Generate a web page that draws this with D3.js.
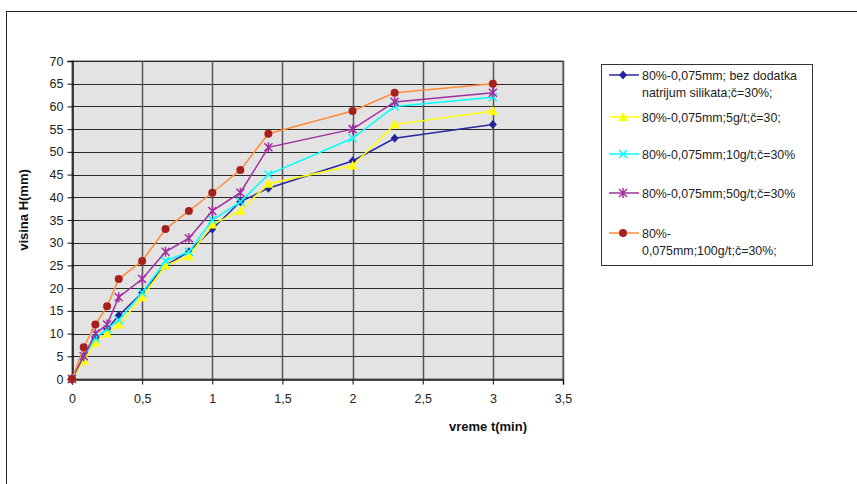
<!DOCTYPE html>
<html><head><meta charset="utf-8">
<script src="https://cdn.jsdelivr.net/npm/d3@7"></script>
<style>body{margin:0;background:#fff;font-family:"Liberation Sans",Arial,sans-serif;}</style>
</head><body>
<svg id="c" width="857" height="484"></svg>
<script>
const times = [0, 0.0833, 0.1667, 0.25, 0.3333, 0.5, 0.6667, 0.8333, 1.0, 1.2, 1.4, 2.0, 2.3, 3.0];
const seriesNames = [
  ["80%-0,075mm; bez dodatka", "natrijum silikata;č=30%;"],
  ["80%-0,075mm;5g/t;č=30;"],
  ["80%-0,075mm;10g/t;č=30%"],
  ["80%-0,075mm;50g/t;č=30%"],
  ["80%-", "0,075mm;100g/t;č=30%;"]
];
const valsBez  = [0, 5, 9, 11, 14, 19, 25, 28, 33, 39, 42, 48, 53, 56];
const vals5    = [0, 4, 8, 10, 12, 18, 25, 27, 34, 37, 43, 47, 56, 59];
const vals10   = [0, 5, 9, 11, 13, 19, 26, 28, 35, 39, 45, 53, 60, 62];
const vals50   = [0, 5, 10, 12, 18, 22, 28, 31, 37, 41, 51, 55, 61, 63];
const vals100  = [0, 7, 12, 16, 22, 26, 33, 37, 41, 46, 54, 59, 63, 65];
const xTicks = [0, 0.5, 1, 1.5, 2, 2.5, 3, 3.5];
const yTicks = [0, 5, 10, 15, 20, 25, 30, 35, 40, 45, 50, 55, 60, 65, 70];

const allVals = [valsBez, vals5, vals10, vals50, vals100];
const lineColors = ["#2a2aa0", "#ffff00", "#00ffff", "#a030a0", "#ff8c3a"];
const markColors = ["#2323a0", "#ffff00", "#00ffff", "#a030a0", "#a81f1f"];
const markTypes = ["diamond", "triangle", "x", "asterisk", "circle"];

const svg = d3.select("#c");
svg.append("rect").attr("x", 6.5).attr("y", 11.5).attr("width", 900).attr("height", 600)
  .attr("fill", "#fff").attr("stroke", "#222").attr("stroke-width", 1);

const L = 72, R = 563, T = 61, B = 379;
const x = d3.scaleLinear().domain([0, 3.5]).range([L, R]);
const y = d3.scaleLinear().domain([0, 70]).range([B, T]);

svg.append("rect").attr("x", L).attr("y", T).attr("width", R - L).attr("height", B - T)
  .attr("fill", "#e3e3e3").attr("stroke", "#8c8c8c").attr("stroke-width", 1.5);

svg.append("g").selectAll("line").data(yTicks.slice(1)).join("line")
  .attr("x1", L).attr("x2", R).attr("y1", d => Math.round(y(d)) + 0.5).attr("y2", d => Math.round(y(d)) + 0.5)
  .attr("stroke", "#2a2a2a").attr("stroke-width", 1);
svg.append("g").selectAll("line").data(xTicks.slice(1)).join("line")
  .attr("y1", T).attr("y2", B).attr("x1", d => Math.round(x(d)) + 0.5).attr("x2", d => Math.round(x(d)) + 0.5)
  .attr("stroke", "#555").attr("stroke-width", 1.5);

const xAxis = svg.append("g").attr("transform", `translate(0,${B + 0.5})`)
  .call(d3.axisBottom(x).tickValues(xTicks).tickSizeOuter(0).tickSize(5).tickPadding(10)
    .tickFormat(d => String(d).replace(".", ",")));
const yAxis = svg.append("g").attr("transform", `translate(${L + 0.5},0)`)
  .call(d3.axisLeft(y).tickValues(yTicks).tickSizeOuter(0).tickSize(5).tickPadding(4));
[xAxis, yAxis].forEach(a => {
  a.select(".domain").attr("stroke", "#111").attr("stroke-width", 1.5);
  a.selectAll(".tick line").attr("stroke", "#111");
  a.selectAll("text").attr("font-family", "Liberation Sans, Arial, sans-serif").attr("font-size", 12.5).attr("fill", "#222");
});

svg.append("text").attr("x", 488).attr("y", 431).attr("text-anchor", "middle")
  .attr("font-size", 13).attr("font-weight", "bold").attr("fill", "#111").text("vreme t(min)");
svg.append("text").attr("transform", "translate(28,210) rotate(-90)").attr("text-anchor", "middle")
  .attr("font-size", 13).attr("font-weight", "bold").attr("fill", "#111").text("visina H(mm)");

function drawMarker(g, type, color, cx, cy) {
  if (type === "diamond") {
    g.append("path").attr("d", `M${cx},${cy - 4.5}L${cx + 4},${cy}L${cx},${cy + 4.5}L${cx - 4},${cy}Z`).attr("fill", color);
  } else if (type === "triangle") {
    g.append("path").attr("d", `M${cx},${cy - 5}L${cx + 5},${cy + 4}L${cx - 5},${cy + 4}Z`).attr("fill", color);
  } else if (type === "x") {
    g.append("path").attr("d", `M${cx - 4},${cy - 4}L${cx + 4},${cy + 4}M${cx - 4},${cy + 4}L${cx + 4},${cy - 4}`)
      .attr("stroke", color).attr("stroke-width", 1.5);
  } else if (type === "asterisk") {
    g.append("path").attr("d", `M${cx - 4},${cy - 4}L${cx + 4},${cy + 4}M${cx - 4},${cy + 4}L${cx + 4},${cy - 4}M${cx},${cy - 5}L${cx},${cy + 5}`)
      .attr("stroke", color).attr("stroke-width", 1.5);
  } else {
    g.append("circle").attr("cx", cx).attr("cy", cy).attr("r", 4).attr("fill", color);
  }
}

const line = d3.line().x(d => x(d[0])).y(d => y(d[1]));
allVals.forEach((vals, i) => {
  const pts = times.map((t, j) => [t, vals[j]]);
  const g = svg.append("g");
  g.append("path").attr("d", line(pts)).attr("fill", "none").attr("stroke", lineColors[i]).attr("stroke-width", 1.5);
  pts.forEach(p => drawMarker(g, markTypes[i], markColors[i], x(p[0]), y(p[1])));
});

svg.append("rect").attr("x", 601.5).attr("y", 64.5).attr("width", 211).attr("height", 201)
  .attr("fill", "#fff").attr("stroke", "#333").attr("stroke-width", 1);
const legY = [75, 117, 154, 193, 233];
seriesNames.forEach((names, i) => {
  const g = svg.append("g");
  const cy = legY[i];
  g.append("line").attr("x1", 609).attr("x2", 639).attr("y1", cy).attr("y2", cy)
    .attr("stroke", lineColors[i]).attr("stroke-width", 1.5);
  drawMarker(g, markTypes[i], markColors[i], 623, cy);
  names.forEach((n, k) => {
    g.append("text").attr("x", 642).attr("y", cy + 4.5 + k * 17).attr("font-size", 12.4).attr("fill", "#222").text(n);
  });
});
</script>
</body></html>
